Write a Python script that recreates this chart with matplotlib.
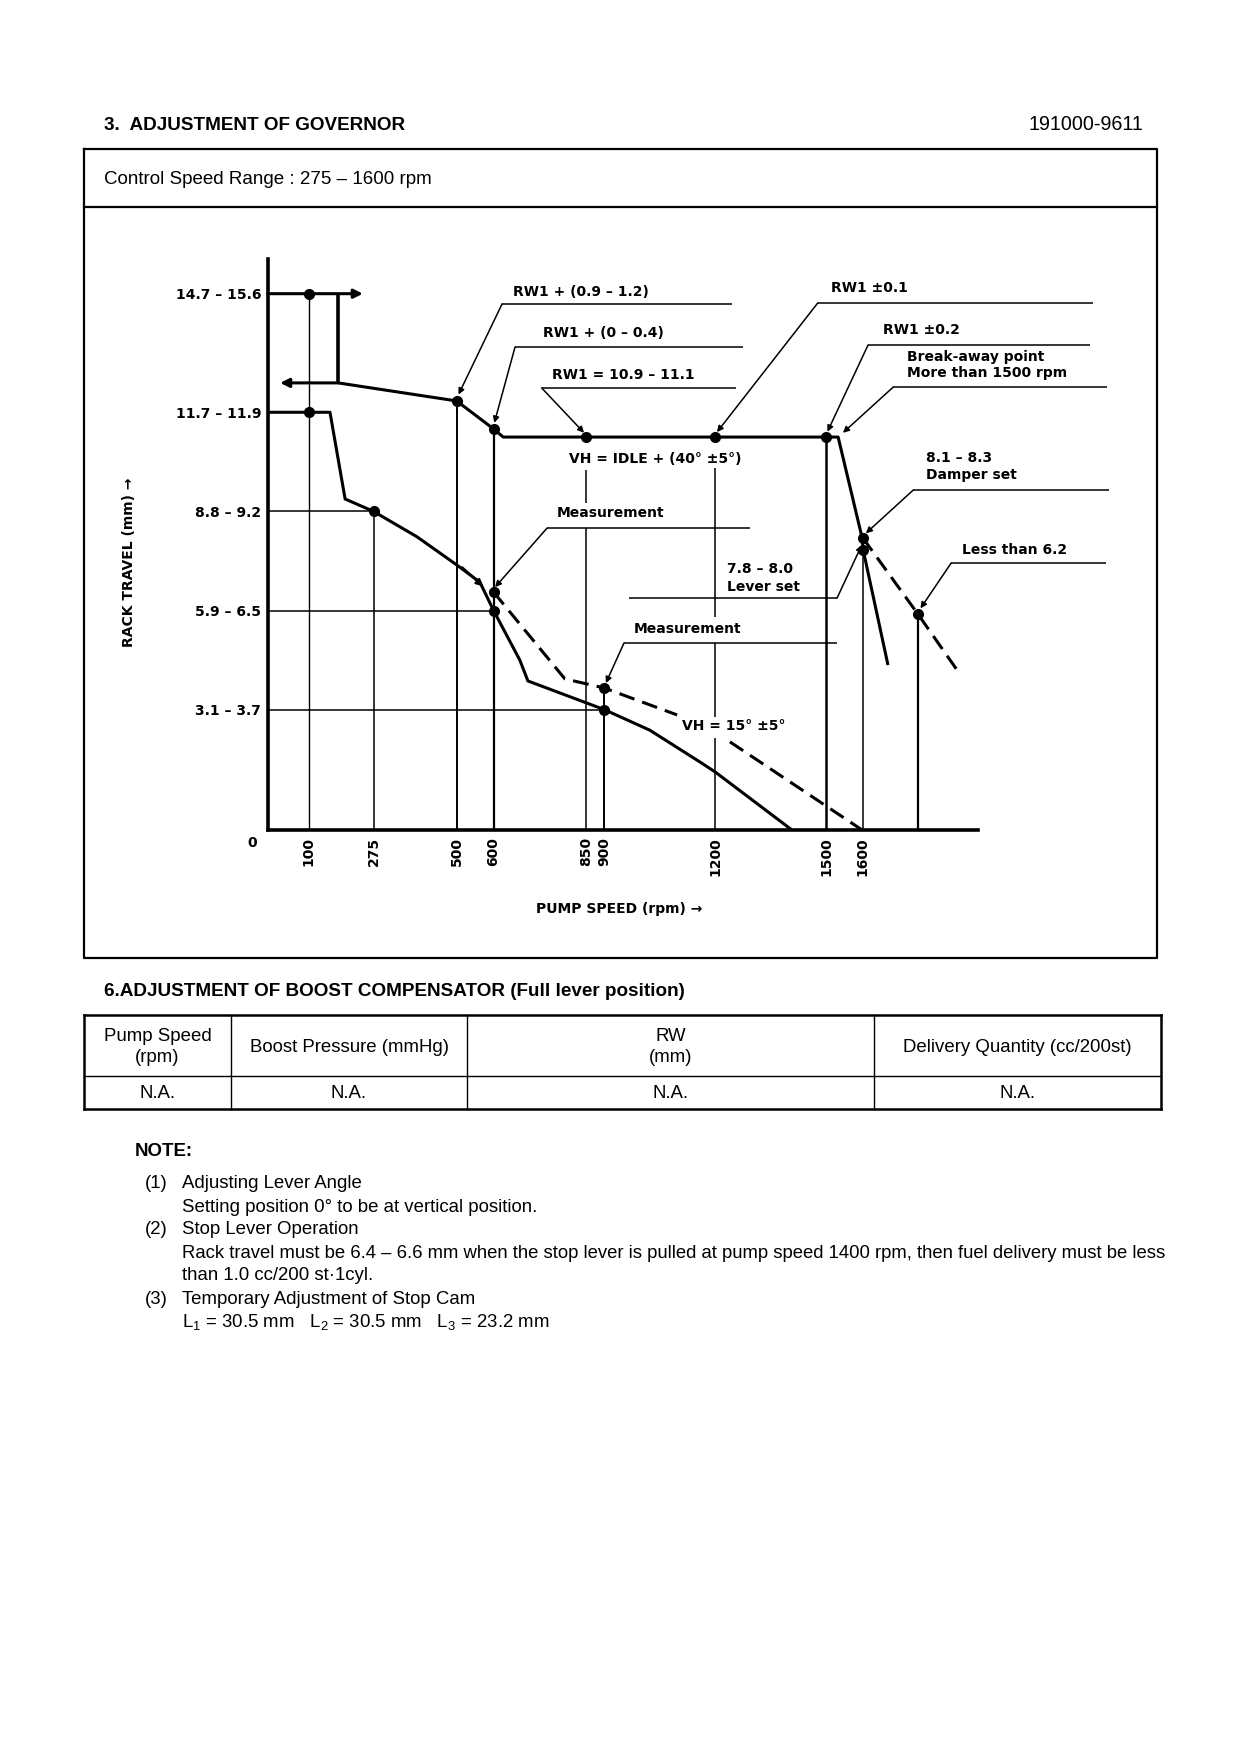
import numpy as np
import matplotlib.pyplot as plt
from matplotlib import font_manager

# >>>>>>>>>>>>> fonts <<<<<<<<<<<<< #
names = {f.name for f in font_manager.fontManager.ttflist}
DOC_FONT = 'Liberation Sans' if 'Liberation Sans' in names else 'DejaVu Sans'
plt.rcParams['font.family'] = [DOC_FONT, 'DejaVu Sans']
plt.rcParams['mathtext.default'] = 'regular'
CH = dict(family=['DejaVu Sans'], fontweight='bold', fontsize=10, color='k')
FS = 13.4

# >>>>>>>>>>>>> chart data : pump speed (rpm) / rack travel (mm) <<<<<<<<<<<<< #
tick_rpm = [100, 275, 500, 600, 850, 900, 1200, 1500, 1600]
level_mm = [15.15, 11.8, 9.0, 6.2, 3.4]
level_lbl = ['14.7 – 15.6', '11.7 – 11.9', '8.8 – 9.2', '5.9 – 6.5', '3.1 – 3.7']

# start / max line
start_rpm = [-11, 246]
start_mm = [15.15, 15.15]
stopper_rpm = [179, 179]
stopper_mm = [15.15, 12.63]
back_rpm = [179, 22]
back_mm = [12.63, 12.63]

# full load line (RW1) and governor cut
full_rpm = [179, 500, 600, 626, 1533, 1598, 1601, 1668]
full_mm = [12.63, 12.12, 11.33, 11.10, 11.10, 8.25, 7.9, 4.66]

# idle / low speed curve
idle_rpm = [-11, 157, 198, 275, 393, 500, 563, 600, 671, 693, 900, 1023, 1159, 1200, 1408]
idle_mm = [11.8, 11.8, 9.35, 9.0, 8.28, 7.49, 7.0, 6.2, 4.80, 4.21, 3.4, 2.82, 1.92, 1.64, 0.0]

# VH = 15 deg dashed
vh15a_rpm = [600, 793, 900, 1097]
vh15a_mm = [6.72, 4.27, 4.01, 3.25]
vh15b_rpm = [1240, 1598]
vh15b_mm = [2.49, 0.0]

# damper dashed
damp_rpm = [1600, 1749, 1855]
damp_mm = [8.25, 6.10, 4.52]

# thin level lines from the axis
lvl_end_rpm = [275, 600, 900]
lvl_end_mm = [9.0, 6.2, 3.4]

# drop lines
drop_rpm = [100, 275, 500, 600, 900, 1500, 1600, 1749]
drop_top = [15.15, 9.0, 12.12, 11.33, 4.01, 11.10, 7.9, 6.10]
drop_lw = [1.0, 1.1, 1.4, 1.6, 1.4, 1.8, 1.1, 1.6]
split_rpm = [850, 850, 1200, 1200, 1200]
split_top = [10.17, 8.53, 10.23, 5.28, 2.60]
split_bot = [9.24, 0.0, 6.02, 3.19, 0.0]

# points
dot_rpm = [100, 100, 275, 500, 600, 600, 600, 850, 1200, 1500, 1600, 1600, 900, 900, 1749]
dot_mm = [15.15, 11.8, 9.0, 12.12, 11.33, 6.72, 6.2, 11.10, 11.10, 11.10, 8.25, 7.9, 4.01, 3.4, 6.10]

# leaders: far end of rule, knee (x, y), arrow tip (x, y)
lead_end = [1246, 1275, 1256, 2223, 2215, 2261, 2266, 2258, 967, 1294, 1530]
lead_kx = [623, 658, 730, 1478, 1614, 1682, 1736, 1839, 1530, 745, 953]
lead_ky = [14.86, 13.64, 12.49, 14.89, 13.70, 12.51, 9.60, 7.54, 6.55, 8.53, 5.28]
lead_tx = [505, 602, 845, 1205, 1504, 1546, 1608, 1756, 1597, 604, 904]
lead_ty = [12.3, 11.5, 11.22, 11.24, 11.25, 11.22, 8.38, 6.26, 8.05, 6.86, 4.15]

# chart labels
lab_rpm = [653, 734, 758, 804, 772, 1232, 1232, 980, 1110, 1514, 1654, 1719, 1719, 1771, 1771, 1868]
lab_mm = [15.2, 14.04, 12.85, 10.48, 8.95, 7.37, 6.86, 5.68, 2.94, 15.31, 14.12, 13.36, 12.91, 10.51, 10.03, 7.91]
lab_txt = ['RW1 + (0.9 – 1.2)', 'RW1 + (0 – 0.4)', 'RW1 = 10.9 – 11.1',
           'VH = IDLE + (40° ±5°)', 'Measurement', '7.8 – 8.0', 'Lever set',
           'Measurement', 'VH = 15° ±5°', 'RW1 ±0.1', 'RW1 ±0.2',
           'Break-away point', 'More than 1500 rpm', '8.1 – 8.3', 'Damper set',
           'Less than 6.2']

# >>>>>>>>>>>>> page texts <<<<<<<<<<<<< #
table_head = ['Pump Speed\n(rpm)', 'Boost Pressure (mmHg)', 'RW\n(mm)', 'Delivery Quantity (cc/200st)']
table_vals = ['N.A.', 'N.A.', 'N.A.', 'N.A.']
notes = [('(1)', 'Adjusting Lever Angle'),
         ('', 'Setting position 0° to be at vertical position.'),
         ('(2)', 'Stop Lever Operation'),
         ('', 'Rack travel must be 6.4 – 6.6 mm when the stop lever is pulled at pump speed 1400 rpm, then fuel delivery must be less'),
         ('', 'than 1.0 cc/200 st·1cyl.'),
         ('(3)', 'Temporary Adjustment of Stop Cam'),
         ('', r'L$_1$ = 30.5 mm   L$_2$ = 30.5 mm   L$_3$ = 23.2 mm')]

W, H = 1240, 1754
fig = plt.figure(figsize=(W / 100, H / 100), dpi=100)
fig.patch.set_facecolor('white')

# page layer in pixel units
doc = fig.add_axes([0, 0, 1, 1], zorder=0)
doc.set_xlim(0, W)
doc.set_ylim(H, 0)
doc.axis('off')

doc.text(104, 125, '3.  ADJUSTMENT OF GOVERNOR', fontsize=13.6, fontweight='bold', va='center')
doc.text(1143, 125, '191000-9611', fontsize=14.2, va='center', ha='right')
doc.plot([84, 1157, 1157, 84, 84], [149, 149, 958, 958, 149], color='k', lw=1.6)
doc.plot([84, 1157], [207, 207], color='k', lw=1.6)
doc.text(104, 179, 'Control Speed Range : 275 – 1600 rpm', fontsize=13.5, va='center')

doc.text(104, 992, '6.ADJUSTMENT OF BOOST COMPENSATOR (Full lever position)', fontsize=13.6,
         fontweight='bold', va='center')
col_x = [84, 231, 467, 874, 1161]
doc.plot([84, 1161], [1015, 1015], color='k', lw=1.8)
doc.plot([84, 1161], [1109, 1109], color='k', lw=1.8)
doc.plot([84, 1161], [1076, 1076], color='k', lw=1.0)
for i, cx in enumerate(col_x):
    doc.plot([cx, cx], [1015, 1109], color='k', lw=1.8 if i in (0, 4) else 1.0)
for i in range(4):
    xc = (col_x[i] + col_x[i + 1]) / 2
    doc.text(xc, 1047, table_head[i], fontsize=FS, ha='center', va='center', linespacing=1.32)
    doc.text(xc, 1093, table_vals[i], fontsize=FS, ha='center', va='center')

doc.text(135, 1152, 'NOTE:', fontsize=FS, fontweight='bold', va='center')
for k, (num, line) in enumerate(notes):
    y = 1184 + k * 23
    if num:
        doc.text(145, y, num, fontsize=FS, va='center')
    doc.text(182, y, line, fontsize=13.3 if k == 3 else FS, va='center')

# >>>>>>>>>>>>> chart axes <<<<<<<<<<<<< #
px0, px1, py0, py1 = 268, 978, 259, 830
ax = fig.add_axes([px0 / W, 1 - py1 / H, (px1 - px0) / W, (py1 - py0) / H], zorder=1)
ax.patch.set_alpha(0)
ax.set_xlim((px0 - 272) / 0.3693, (px1 - 272) / 0.3693)
ax.set_ylim(0, (py1 - py0) / 35.4)
for s in ['top', 'right']:
    ax.spines[s].set_visible(False)
for s in ['left', 'bottom']:
    ax.spines[s].set_linewidth(2.6)

ax.set_xticks(tick_rpm, [str(v) for v in tick_rpm], rotation=90)
ax.set_yticks(level_mm, level_lbl)
ax.tick_params(length=0, pad=5)
for t in ax.get_xticklabels() + ax.get_yticklabels():
    t.set_fontfamily('DejaVu Sans')
    t.set_fontweight('bold')
    t.set_fontsize(10)
ax.text(-54, -0.37, '0', ha='center', va='center', **CH)

ax.set_xlabel('PUMP SPEED (rpm) →', **CH)
ax.xaxis.set_label_coords(0.494, -0.126)
ax.set_ylabel('RACK TRAVEL (mm) →', **CH)
ax.yaxis.set_label_coords(-0.186, 0.469)

LW = 2.2
kw = dict(color='k', clip_on=False, solid_capstyle='butt')
ax.annotate('', xy=(start_rpm[1], start_mm[1]), xytext=(start_rpm[0], start_mm[0]),
            arrowprops=dict(arrowstyle='-|>', color='k', lw=LW, mutation_scale=13, shrinkA=0, shrinkB=0),
            annotation_clip=False)
ax.plot(stopper_rpm, stopper_mm, lw=2.6, **kw)
ax.annotate('', xy=(back_rpm[1], back_mm[1]), xytext=(back_rpm[0], back_mm[0]),
            arrowprops=dict(arrowstyle='-|>', color='k', lw=LW, mutation_scale=13, shrinkA=0, shrinkB=0),
            annotation_clip=False)
ax.plot(full_rpm, full_mm, lw=LW, **kw)
ax.plot(idle_rpm, idle_mm, lw=LW, **kw)
ax.annotate('', xy=(572, 6.88), xytext=(515, 7.42),
            arrowprops=dict(arrowstyle='-|>', color='k', lw=1.6, mutation_scale=10, shrinkA=0, shrinkB=0),
            annotation_clip=False)

dash = (0, (5.2, 2.7))
ax.plot(vh15a_rpm, vh15a_mm, lw=LW, linestyle=dash, color='k', clip_on=False)
ax.plot(vh15b_rpm, vh15b_mm, lw=LW, linestyle=dash, color='k', clip_on=False)
ax.plot(damp_rpm, damp_mm, lw=LW, linestyle=dash, color='k', clip_on=False)

for xe, ye in zip(lvl_end_rpm, lvl_end_mm):
    ax.plot([-11, xe], [ye, ye], lw=1.1, **kw)
for xr, yt, w in zip(drop_rpm, drop_top, drop_lw):
    ax.plot([xr, xr], [yt, 0], lw=w, **kw)
for xr, yt, yb in zip(split_rpm, split_top, split_bot):
    ax.plot([xr, xr], [yt, yb], lw=1.1, **kw)

for he, kx, ky, tx, ty in zip(lead_end, lead_kx, lead_ky, lead_tx, lead_ty):
    ax.plot([he, kx], [ky, ky], lw=1.1, **kw)
    ax.annotate('', xy=(tx, ty), xytext=(kx, ky),
                arrowprops=dict(arrowstyle='-|>', color='k', lw=1.1, mutation_scale=9, shrinkA=0, shrinkB=0),
                annotation_clip=False)

ax.plot(dot_rpm, dot_mm, 'o', color='k', markersize=7, clip_on=False, zorder=5)

for xr, ym, t in zip(lab_rpm, lab_mm, lab_txt):
    ax.text(xr, ym, t, ha='left', va='center', **CH)

fig.savefig('out.png', dpi=100, facecolor='white')
